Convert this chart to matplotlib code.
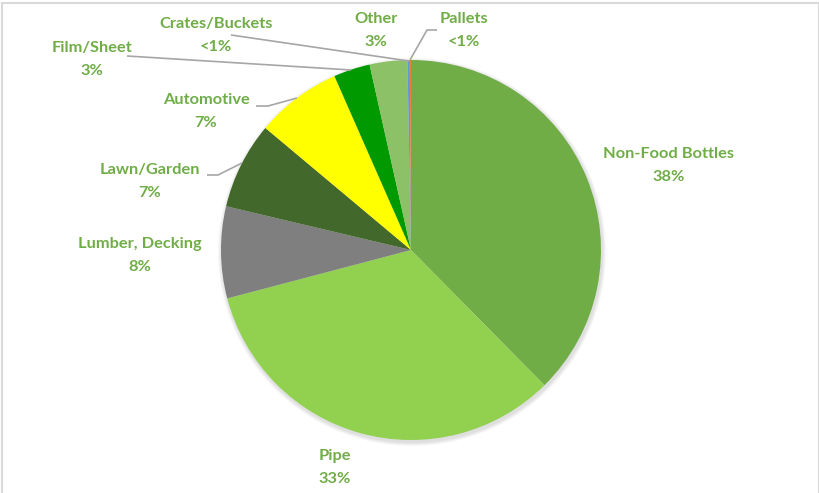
import matplotlib
matplotlib.use("Agg")
import matplotlib.pyplot as plt
from matplotlib.patches import Circle

categories = ["Non-Food Bottles", "Pipe", "Lumber, Decking", "Lawn/Garden", "Automotive",
              "Film/Sheet", "Other", "Pallets", "Crates/Buckets"]
values = [37.6, 33.3, 7.8, 7.4, 7.3, 3.1, 3.2, 0.2, 0.1]
pct_labels = ["38%", "33%", "8%", "7%", "7%", "3%", "3%", "<1%", "<1%"]
colors = ["#70AD47", "#92D050", "#7F7F7F", "#43682B", "#FFFF00",
          "#009A00", "#8CC168", "#5B9BD5", "#ED7D31"]

W, H = 820, 493
fig = plt.figure(figsize=(W / 100, H / 100), dpi=100)
ax = fig.add_axes([0, 0, 1, 1])

cx, cy, r = 411, H - 250, 190

# soft shadow
for i in range(4):
    ax.add_patch(Circle((cx + 1, cy - 2), r + 4 - i, color="black", alpha=0.03, lw=0, zorder=1))

ax.pie(values, colors=colors, startangle=90, counterclock=False, center=(cx, cy),
       radius=r, frame=True, wedgeprops=dict(linewidth=0, zorder=2))
ax.set_xlim(0, W)
ax.set_ylim(0, H)
ax.set_aspect("equal")
ax.axis("off")

# border (top, left, right)
bc = "#D9D9D9"
ax.plot([2, 819], [H - 3, H - 3], color=bc, lw=1.5, zorder=0)
ax.plot([2, 2], [H - 3, 0], color=bc, lw=1.5, zorder=0)
ax.plot([819, 819], [H - 3, 0], color=bc, lw=1.5, zorder=0)

tc = "#70AD47"
font = dict(family="Lato", weight="bold", size=11.8, color=tc, ha="center", va="center")

label_pos = {
    "Non-Food Bottles": (669, 154),
    "Pipe": (335, 456),
    "Lumber, Decking": (140, 244),
    "Lawn/Garden": (150, 170),
    "Automotive": (206, 100),
    "Film/Sheet": (92, 48),
    "Crates/Buckets": (216, 24),
    "Other": (376, 19),
    "Pallets": (464, 19),
}
for cat, pl in zip(categories, pct_labels):
    x, y = label_pos[cat]
    ax.text(x, H - y, cat, zorder=5, **font)
    ax.text(x, H - y - 23, pl, zorder=5, **font)

leaders = [
    [(231, 35), (409, 61)],                 # Crates
    [(127, 56), (351, 70)],                 # Film
    [(256, 106), (268, 106), (297, 98)],    # Automotive
    [(207, 175), (218, 175), (242, 163)],   # Lawn
    [(437, 30), (427, 30), (410, 60)],      # Pallets
]
for pts in leaders:
    xs = [p[0] for p in pts]
    ys = [H - p[1] for p in pts]
    ax.plot(xs, ys, color="#A6A6A6", lw=1.2, zorder=4, solid_capstyle="butt")

fig.savefig("out.png", dpi=100)
